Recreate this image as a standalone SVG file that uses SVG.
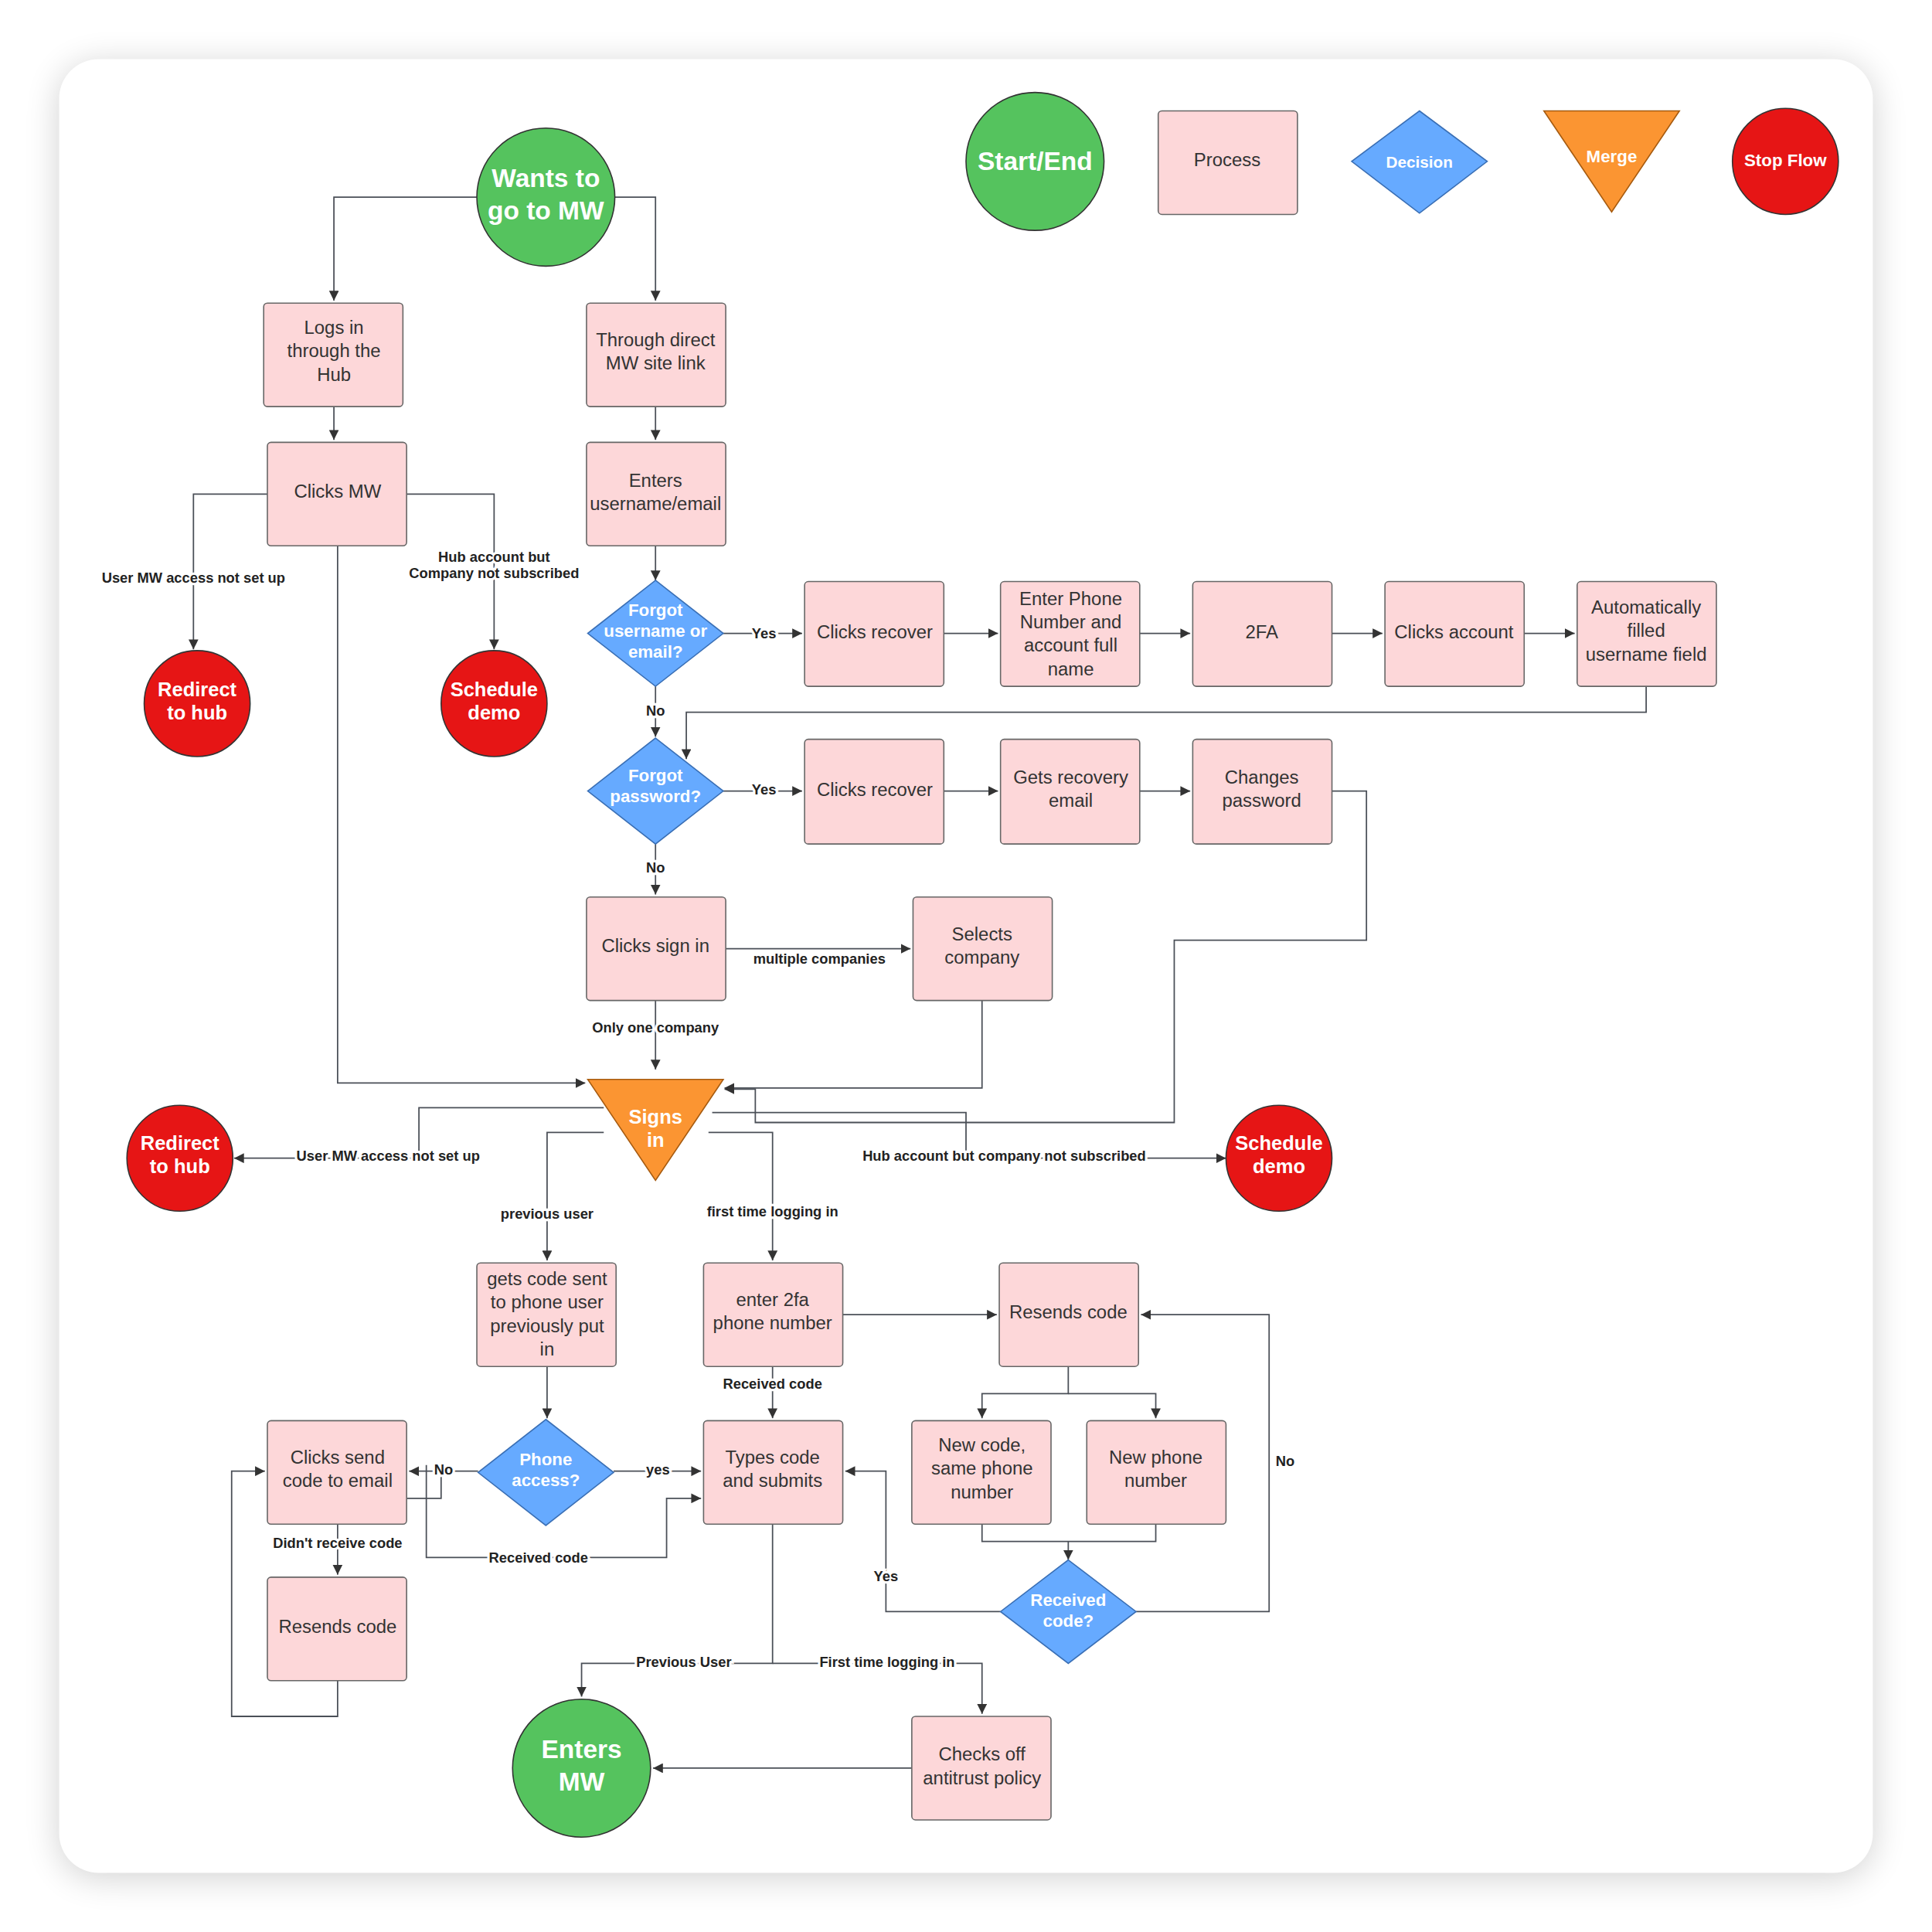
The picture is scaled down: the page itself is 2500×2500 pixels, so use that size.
<svg xmlns="http://www.w3.org/2000/svg" width="2500" height="2500" viewBox="0 0 2500 2500">
<style>
.p{fill:#fdd7d9;stroke:#666;stroke-width:1}
.t{font-family:"Liberation Sans",Arial,sans-serif;font-size:15px;fill:#333;text-anchor:middle}
.w{font-family:"Liberation Sans",Arial,sans-serif;font-weight:bold;fill:#fff;text-anchor:middle}
.g{fill:#55c35e;stroke:#333;stroke-width:1}
.r{fill:#e61515;stroke:#333;stroke-width:1}
.d{fill:#66aaff;stroke:#3a6fb5;stroke-width:1}
.o{fill:#fb9532;stroke:#a65b10;stroke-width:1}
.c path{fill:none;stroke:#4a4f57;stroke-width:1.1}
.l{font-family:"Liberation Sans",Arial,sans-serif;font-weight:bold;font-size:11.5px;fill:#222;text-anchor:middle;stroke:#fff;stroke-width:4;paint-order:stroke}
</style>
<defs>
<marker id="a" viewBox="0 0 10 10" refX="10" refY="5" markerWidth="8" markerHeight="8" markerUnits="userSpaceOnUse" orient="auto"><path d="M0,0L10,5L0,10z" fill="#333"/></marker>
<filter id="sh" x="-10%" y="-10%" width="120%" height="120%"><feGaussianBlur stdDeviation="14"/></filter>
</defs>
<rect width="2500" height="2500" fill="#fff"/>
<g transform="scale(1.5944)">
<rect x="48" y="52" width="1472" height="1472" rx="32" fill="#000" opacity="0.18" filter="url(#sh)"/>
<rect x="48" y="48" width="1472" height="1472" rx="32" fill="#fff"/>

<g class="c">
<path d="M387,160H271V244" marker-end="url(#a)"/>
<path d="M499,160H532V244" marker-end="url(#a)"/>
<path d="M271,330V357" marker-end="url(#a)"/>
<path d="M532,330V357" marker-end="url(#a)"/>
<path d="M217,401H157V527" marker-end="url(#a)"/>
<path d="M330,401H401V527" marker-end="url(#a)"/>
<path d="M274,443V879H475" marker-end="url(#a)"/>
<path d="M532,443V471" marker-end="url(#a)"/>
<path d="M587,514H651" marker-end="url(#a)"/>
<path d="M766,514H810" marker-end="url(#a)"/>
<path d="M925,514H966" marker-end="url(#a)"/>
<path d="M1081,514H1122" marker-end="url(#a)"/>
<path d="M1237,514H1278" marker-end="url(#a)"/>
<path d="M1336,557V578H557V616" marker-end="url(#a)"/>
<path d="M532,557V598" marker-end="url(#a)"/>
<path d="M587,642H651" marker-end="url(#a)"/>
<path d="M766,642H810" marker-end="url(#a)"/>
<path d="M925,642H966" marker-end="url(#a)"/>
<path d="M1081,642H1109V763H953V911H613V884H588" marker-end="url(#a)"/>
<path d="M532,685V726" marker-end="url(#a)"/>
<path d="M589,770H739" marker-end="url(#a)"/>
<path d="M532,812V868" marker-end="url(#a)"/>
<path d="M797,812V883H588" marker-end="url(#a)"/>
<path d="M490,899H340V940H190" marker-end="url(#a)"/>
<path d="M578,903H784V940H995" marker-end="url(#a)"/>
<path d="M490,919H444V1023" marker-end="url(#a)"/>
<path d="M575,919H627V1023" marker-end="url(#a)"/>
<path d="M444,1109V1151" marker-end="url(#a)"/>
<path d="M684,1067H809" marker-end="url(#a)"/>
<path d="M627,1109V1151" marker-end="url(#a)"/>
<path d="M867,1109V1131H797V1151" marker-end="url(#a)"/>
<path d="M867,1131H938V1151" marker-end="url(#a)"/>
<path d="M797,1237V1251H938V1237M867,1251V1266" marker-end="url(#a)"/>
<path d="M922,1308H1030V1067H926" marker-end="url(#a)"/>
<path d="M812,1308H719V1194H686" marker-end="url(#a)"/>
<path d="M388,1194H332" marker-end="url(#a)"/>
<path d="M330,1216H358V1189"/>
<path d="M346,1189V1264H541V1216H569" marker-end="url(#a)"/>
<path d="M498,1194H569" marker-end="url(#a)"/>
<path d="M274,1237V1278" marker-end="url(#a)"/>
<path d="M274,1364V1393H188V1194H215" marker-end="url(#a)"/>
<path d="M627,1237V1350H472V1377" marker-end="url(#a)"/>
<path d="M627,1350H797V1391" marker-end="url(#a)"/>
<path d="M740,1435H530" marker-end="url(#a)"/>
<text class="l" x="157" y="473">User MW access not set up</text>
<text class="l" x="401" y="456">Hub account but</text>
<text class="l" x="401" y="469">Company not subscribed</text>
<text class="l" x="620" y="518">Yes</text>
<text class="l" x="532" y="581">No</text>
<text class="l" x="620" y="645">Yes</text>
<text class="l" x="532" y="708">No</text>
<text class="l" x="665" y="782">multiple companies</text>
<text class="l" x="532" y="838">Only one company</text>
<text class="l" x="315" y="942">User MW access not set up</text>
<text class="l" x="815" y="942">Hub account but company not subscribed</text>
<text class="l" x="444" y="989">previous user</text>
<text class="l" x="627" y="987">first time logging in</text>
<text class="l" x="627" y="1127">Received code</text>
<text class="l" x="1043" y="1190">No</text>
<text class="l" x="719" y="1283">Yes</text>
<text class="l" x="360" y="1197">No</text>
<text class="l" x="534" y="1197">yes</text>
<text class="l" x="437" y="1268">Received code</text>
<text class="l" x="274" y="1256">Didn't receive code</text>
<text class="l" x="555" y="1353">Previous User</text>
<text class="l" x="720" y="1353">First time logging in</text>
</g>

<g id="legend-start"><circle class="g" cx="840" cy="131" r="56"/><text class="w" x="840" y="138" font-size="21">Start/End</text></g>
<g id="legend-process"><rect class="p" x="940" y="90" width="113" height="84" rx="3"/><text class="t" x="996" y="135">Process</text></g>
<g id="legend-decision"><path class="d" d="M1152,90L1207,131L1152,173L1097,131Z"/><text class="w" x="1152" y="136" font-size="13">Decision</text></g>
<g id="legend-merge"><path class="o" d="M1253,90H1363L1308,172Z"/><text class="w" x="1308" y="132" font-size="14">Merge</text></g>
<g id="legend-stop"><circle class="r" cx="1449" cy="131" r="43"/><text class="w" x="1449" y="135" font-size="14">Stop Flow</text></g>

<g id="start"><circle class="g" cx="443" cy="160" r="56"/><text class="w" x="443" y="152" font-size="21">Wants to</text><text class="w" x="443" y="178" font-size="21">go to MW</text></g>
<g id="hub"><rect class="p" x="214" y="246" width="113" height="84" rx="3"/><text class="t" x="271" y="271">Logs in</text><text class="t" x="271" y="290">through the</text><text class="t" x="271" y="309">Hub</text></g>
<g id="direct"><rect class="p" x="476" y="246" width="113" height="84" rx="3"/><text class="t" x="532" y="281">Through direct</text><text class="t" x="532" y="300">MW site link</text></g>
<g id="clicksmw"><rect class="p" x="217" y="359" width="113" height="84" rx="3"/><text class="t" x="274" y="404">Clicks MW</text></g>
<g id="enters"><rect class="p" x="476" y="359" width="113" height="84" rx="3"/><text class="t" x="532" y="395">Enters</text><text class="t" x="532" y="414">username/email</text></g>
<g id="redirect1"><circle class="r" cx="160" cy="571" r="43"/><text class="w" x="160" y="565" font-size="16">Redirect</text><text class="w" x="160" y="584" font-size="16">to hub</text></g>
<g id="demo1"><circle class="r" cx="401" cy="571" r="43"/><text class="w" x="401" y="565" font-size="16">Schedule</text><text class="w" x="401" y="584" font-size="16">demo</text></g>
<g id="forgotuser"><path class="d" d="M532,471L587,514L532,557L477,514Z"/><text class="w" x="532" y="500" font-size="14">Forgot</text><text class="w" x="532" y="517" font-size="14">username or</text><text class="w" x="532" y="534" font-size="14">email?</text></g>
<g id="recover1"><rect class="p" x="653" y="472" width="113" height="85" rx="3"/><text class="t" x="710" y="518">Clicks recover</text></g>
<g id="phone"><rect class="p" x="812" y="472" width="113" height="85" rx="3"/><text class="t" x="869" y="491">Enter Phone</text><text class="t" x="869" y="510">Number and</text><text class="t" x="869" y="529">account full</text><text class="t" x="869" y="548">name</text></g>
<g id="twofa"><rect class="p" x="968" y="472" width="113" height="85" rx="3"/><text class="t" x="1024" y="518">2FA</text></g>
<g id="account"><rect class="p" x="1124" y="472" width="113" height="85" rx="3"/><text class="t" x="1180" y="518">Clicks account</text></g>
<g id="autofill"><rect class="p" x="1280" y="472" width="113" height="85" rx="3"/><text class="t" x="1336" y="498">Automatically</text><text class="t" x="1336" y="517">filled</text><text class="t" x="1336" y="536">username field</text></g>
<g id="forgotpw"><path class="d" d="M532,599L587,642L532,685L477,642Z"/><text class="w" x="532" y="634" font-size="14">Forgot</text><text class="w" x="532" y="651" font-size="14">password?</text></g>
<g id="recover2"><rect class="p" x="653" y="600" width="113" height="85" rx="3"/><text class="t" x="710" y="646">Clicks recover</text></g>
<g id="email"><rect class="p" x="812" y="600" width="113" height="85" rx="3"/><text class="t" x="869" y="636">Gets recovery</text><text class="t" x="869" y="655">email</text></g>
<g id="changes"><rect class="p" x="968" y="600" width="113" height="85" rx="3"/><text class="t" x="1024" y="636">Changes</text><text class="t" x="1024" y="655">password</text></g>
<g id="signin"><rect class="p" x="476" y="728" width="113" height="84" rx="3"/><text class="t" x="532" y="773">Clicks sign in</text></g>
<g id="company"><rect class="p" x="741" y="728" width="113" height="84" rx="3"/><text class="t" x="797" y="763">Selects</text><text class="t" x="797" y="782">company</text></g>
<g id="signsin"><path class="o" d="M477,876H587L532,958Z"/><text class="w" x="532" y="912" font-size="16">Signs</text><text class="w" x="532" y="931" font-size="16">in</text></g>
<g id="redirect2"><circle class="r" cx="146" cy="940" r="43"/><text class="w" x="146" y="933" font-size="16">Redirect</text><text class="w" x="146" y="952" font-size="16">to hub</text></g>
<g id="demo2"><circle class="r" cx="1038" cy="940" r="43"/><text class="w" x="1038" y="933" font-size="16">Schedule</text><text class="w" x="1038" y="952" font-size="16">demo</text></g>
<g id="getscode"><rect class="p" x="387" y="1025" width="113" height="84" rx="3"/><text class="t" x="444" y="1043">gets code sent</text><text class="t" x="444" y="1062">to phone user</text><text class="t" x="444" y="1081">previously put</text><text class="t" x="444" y="1100">in</text></g>
<g id="enter2fa"><rect class="p" x="571" y="1025" width="113" height="84" rx="3"/><text class="t" x="627" y="1060">enter 2fa</text><text class="t" x="627" y="1079">phone number</text></g>
<g id="resends1"><rect class="p" x="811" y="1025" width="113" height="84" rx="3"/><text class="t" x="867" y="1070">Resends code</text></g>
<g id="sendemail"><rect class="p" x="217" y="1153" width="113" height="84" rx="3"/><text class="t" x="274" y="1188">Clicks send</text><text class="t" x="274" y="1207">code to email</text></g>
<g id="phoneaccess"><path class="d" d="M443,1152L498,1195L443,1238L388,1195Z"/><text class="w" x="443" y="1189" font-size="14">Phone</text><text class="w" x="443" y="1206" font-size="14">access?</text></g>
<g id="types"><rect class="p" x="571" y="1153" width="113" height="84" rx="3"/><text class="t" x="627" y="1188">Types code</text><text class="t" x="627" y="1207">and submits</text></g>
<g id="newcode"><rect class="p" x="740" y="1153" width="113" height="84" rx="3"/><text class="t" x="797" y="1178">New code,</text><text class="t" x="797" y="1197">same phone</text><text class="t" x="797" y="1216">number</text></g>
<g id="newphone"><rect class="p" x="882" y="1153" width="113" height="84" rx="3"/><text class="t" x="938" y="1188">New phone</text><text class="t" x="938" y="1207">number</text></g>
<g id="resends2"><rect class="p" x="217" y="1280" width="113" height="84" rx="3"/><text class="t" x="274" y="1325">Resends code</text></g>
<g id="received"><path class="d" d="M867,1266L922,1308L867,1350L812,1308Z"/><text class="w" x="867" y="1303" font-size="14">Received</text><text class="w" x="867" y="1320" font-size="14">code?</text></g>
<g id="entersmw"><circle class="g" cx="472" cy="1435" r="56"/><text class="w" x="472" y="1427" font-size="21">Enters</text><text class="w" x="472" y="1453" font-size="21">MW</text></g>
<g id="antitrust"><rect class="p" x="740" y="1393" width="113" height="84" rx="3"/><text class="t" x="797" y="1429">Checks off</text><text class="t" x="797" y="1448">antitrust policy</text></g>
</g>
</svg>
